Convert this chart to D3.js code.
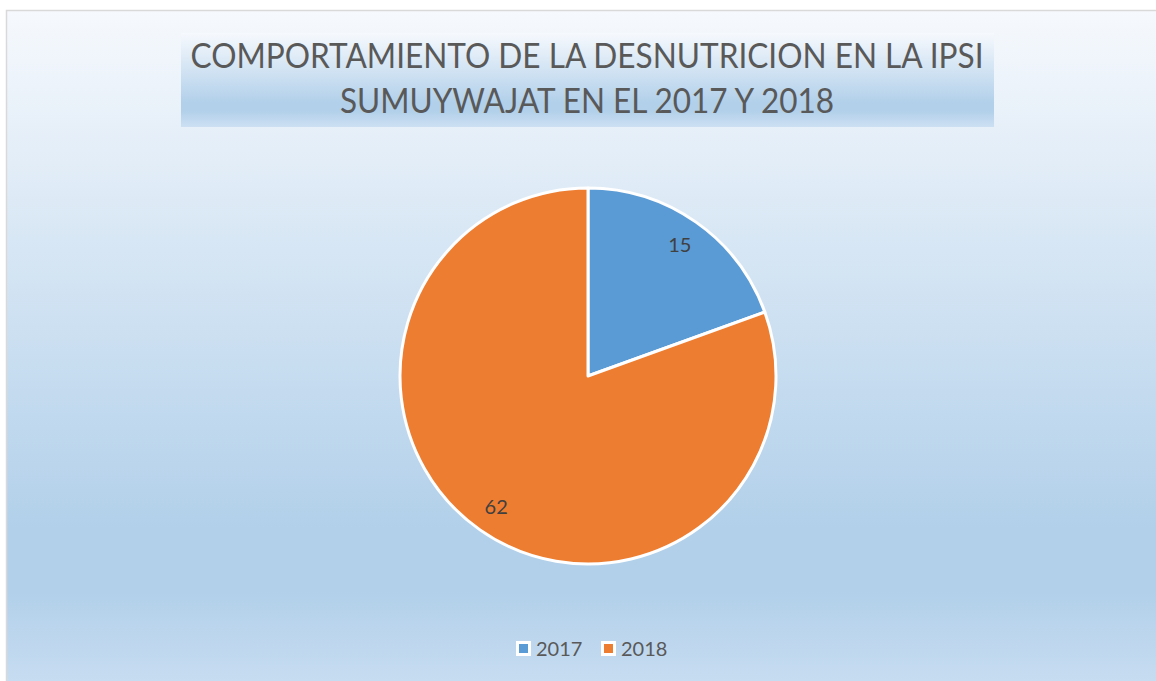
<!DOCTYPE html>
<html>
<head>
<meta charset="utf-8">
<script src="https://cdn.jsdelivr.net/npm/d3@7"></script>
<style>
  html, body { margin: 0; padding: 0; background: #fff; overflow: hidden; }
  svg { display: block; }
</style>
</head>
<body>
<div id="chart"></div>
<script>
// chart data
const categories = ["2017", "2018"];
const values = [15, 62];
const colors = ["#5b9bd5", "#ed7d31"];
const titleLines = ["COMPORTAMIENTO DE LA DESNUTRICION EN LA IPSI", "SUMUYWAJAT EN EL 2017 Y 2018"];

const W = 1156, H = 681;
const FONT = "Lato, 'Open Sans', sans-serif";

var svg = d3.select("#chart").append("svg")
    .attr("width", W)
    .attr("height", H);

var defs = svg.append("defs");

function lightGradient(id) {
    var g = defs.append("linearGradient")
        .attr("id", id)
        .attr("x1", 0).attr("y1", 0)
        .attr("x2", 0).attr("y2", 1);
    [[0, "#f6f9fd"], [0.74, "#b2d0ea"], [0.83, "#b2d0ea"], [1, "#cde0f3"]].forEach(s => {
        g.append("stop").attr("offset", s[0]).attr("stop-color", s[1]);
    });
}
lightGradient("bgGrad");
lightGradient("titleGrad");

// chart area
svg.append("rect")
    .attr("x", 6.5).attr("y", 10.5)
    .attr("width", 1180).attr("height", 700)
    .attr("fill", "url(#bgGrad)")
    .attr("stroke", "#d9d9d9")
    .attr("stroke-width", 1.5);

// title box
svg.append("rect")
    .attr("x", 181).attr("y", 33)
    .attr("width", 813).attr("height", 94)
    .attr("fill", "url(#titleGrad)");

var titleWidths = [793, 494];
svg.append("g").selectAll("text")
    .data(titleLines)
    .enter().append("text")
    .attr("x", 587)
    .attr("y", (d, i) => 68 + i * 45)
    .attr("text-anchor", "middle")
    .attr("textLength", (d, i) => titleWidths[i])
    .attr("lengthAdjust", "spacingAndGlyphs")
    .style("font-family", FONT)
    .style("font-size", "35px")
    .attr("fill", "#595959")
    .text(d => d);

// pie
var cx = 588, cy = 376, radius = 188;

var pie = d3.pie().sort(null).value(d => d.value);
var arc = d3.arc().innerRadius(0).outerRadius(radius);
var labelArc = d3.arc().innerRadius(radius * 0.85).outerRadius(radius * 0.85);

var data = categories.map((c, i) => ({ name: c, value: values[i], color: colors[i] }));
var arcs = pie(data);

var g = svg.append("g").attr("transform", "translate(" + cx + "," + cy + ")");

g.selectAll("path")
    .data(arcs)
    .enter().append("path")
    .attr("d", arc)
    .attr("fill", d => d.data.color)
    .attr("stroke", "#fff")
    .attr("stroke-width", 3)
    .attr("stroke-linejoin", "round");

g.selectAll(".label")
    .data(arcs)
    .enter().append("text")
    .attr("class", "label")
    .attr("transform", d => "translate(" + labelArc.centroid(d) + ")")
    .attr("text-anchor", "middle")
    .attr("dy", "0.35em")
    .style("font-family", FONT)
    .style("font-size", "20px")
    .attr("fill", "#404040")
    .text(d => d.data.value);

// legend
var legend = svg.append("g").attr("transform", "translate(516,641)");
var item = legend.selectAll("g")
    .data(data)
    .enter().append("g")
    .attr("transform", (d, i) => "translate(" + (i * 85) + ",0)");

item.append("rect")
    .attr("x", 1.5).attr("y", 1.5)
    .attr("width", 12).attr("height", 12)
    .attr("fill", d => d.color)
    .attr("stroke", "#fff")
    .attr("stroke-width", 3);

item.append("text")
    .attr("x", 20)
    .attr("y", 15)
    .style("font-family", FONT)
    .style("font-size", "20px")
    .attr("fill", "#595959")
    .text(d => d.name);
</script>
</body>
</html>
